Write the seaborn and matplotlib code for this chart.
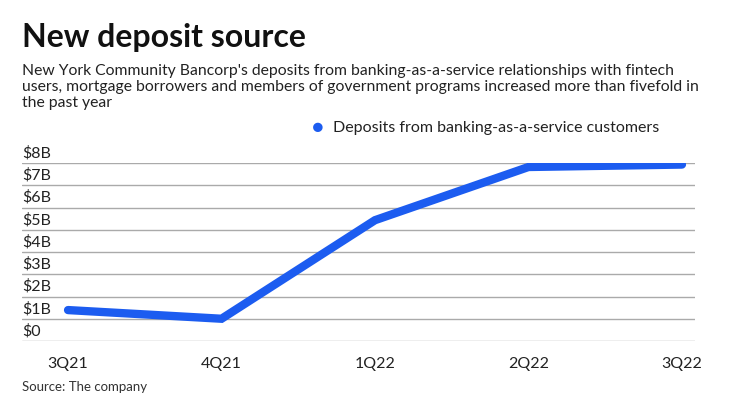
import matplotlib
matplotlib.use("Agg")
import matplotlib.pyplot as plt
import seaborn as sns
import pandas as pd

quarters = ["3Q21", "4Q21", "1Q22", "2Q22", "3Q22"]
deposits = [1.39, 1.0, 5.43, 7.82, 7.93]
yticks = [0, 1, 2, 3, 4, 5, 6, 7, 8]
ytick_labels = ["$0", "$1B", "$2B", "$3B", "$4B", "$5B", "$6B", "$7B", "$8B"]

BLUE = "#1c5cf0"

sns.set_style("white")
plt.rcParams["font.family"] = ["Lato", "DejaVu Sans"]

df = pd.DataFrame({"x": range(len(quarters)), "y": deposits})

fig = plt.figure(figsize=(7.4, 4.16), dpi=100)
ax = fig.add_axes([22 / 740, 1 - 341 / 416, (695 - 22) / 740, (341 - 163) / 416])
sns.lineplot(data=df, x="x", y="y", color=BLUE, linewidth=6, ax=ax,
             solid_capstyle="round", solid_joinstyle="miter")

ax.set_xlim(-0.3, 4.085)
ax.set_ylim(0, 8)
ax.set_yticks(yticks)
ax.set_yticklabels([])
ax.tick_params(left=False, bottom=False)
for v, lab in zip(yticks, ytick_labels):
    ax.axhline(v, color="#aaaaaa", linewidth=1, zorder=0)
    ax.text(0, v + 0.12, lab, transform=ax.get_yaxis_transform(), ha="left",
            va="bottom", fontsize=11.5, color="#222222")
ax.set_xticks(range(len(quarters)))
ax.set_xticklabels(quarters, fontsize=11.5, color="#222222")
ax.tick_params(axis="x", pad=8)
ax.set_xlabel("")
ax.set_ylabel("")
sns.despine(ax=ax, left=True, bottom=True, top=True, right=True)

fig.text(22 / 740, 1 - 38 / 416, "New deposit source", fontsize=23, fontweight="bold",
         va="center", ha="left", color="#111111")
fig.text(22 / 740, 1 - 64 / 416,
         "New York Community Bancorp's deposits from banking-as-a-service relationships with fintech\n"
         "users, mortgage borrowers and members of government programs increased more than fivefold in\n"
         "the past year",
         fontsize=11.3, va="top", ha="left", color="#222222", linespacing=1.2)
fig.text(318 / 740, 1 - 128 / 416, "\u25CF", fontsize=14, color=BLUE, va="center", ha="center")
fig.text(333 / 740, 1 - 128 / 416, "Deposits from banking-as-a-service customers",
         fontsize=11.5, va="center", ha="left", color="#222222")
fig.text(22 / 740, 1 - 387 / 416, "Source: The company", fontsize=9.5, va="center",
         ha="left", color="#333333")

fig.savefig("out.png", dpi=100)
